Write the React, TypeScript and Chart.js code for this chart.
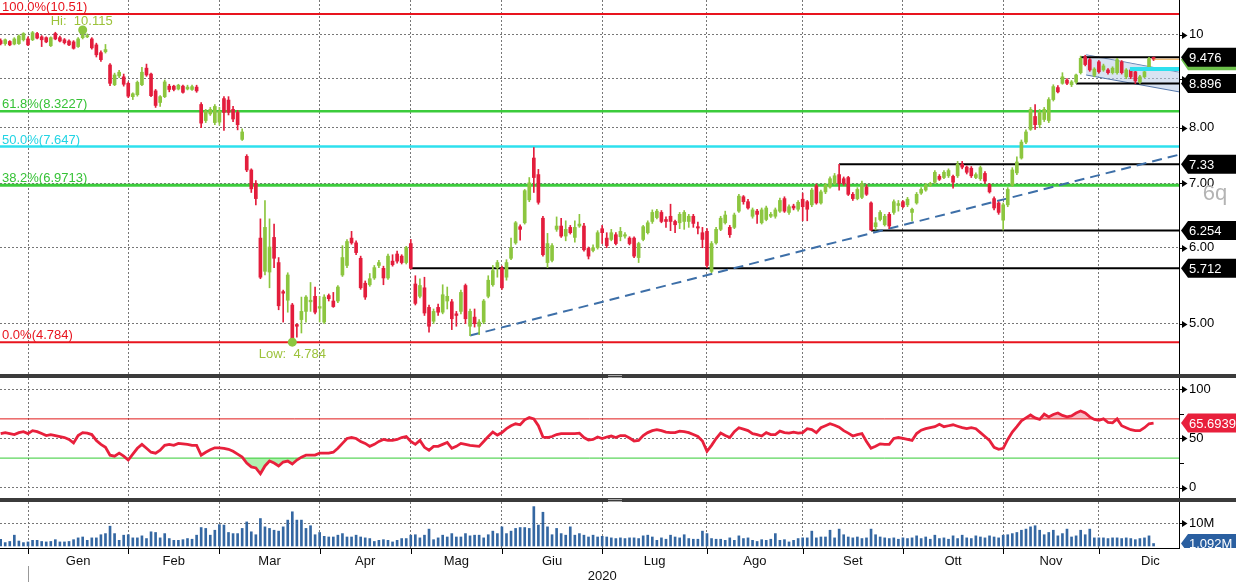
import React, { useEffect, useRef } from 'react';
import { Chart, registerables } from 'chart.js';

Chart.register(...registerables);

// ---------------- DATA ----------------
const monthLabels = ['Gen', 'Feb', 'Mar', 'Apr', 'Mag', 'Giu', 'Lug', 'Ago', 'Set', 'Ott', 'Nov', 'Dic'];
// trading-day index of the first session of each month (index 0 = first candle, Dec 2019)
const monthStarts = [6, 28, 48, 70, 90, 110, 132, 155, 176, 198, 220, 241];
const nextYearStart = 263.6;
const yearLabel = '2020';

const openP = [
  9.86, 9.79, 9.84, 9.78, 9.79, 9.88, 9.9, 9.88, 10.03, 9.95,
  9.93, 9.74, 10.03, 9.93, 9.88, 9.85, 9.83, 9.72, 9.93, 9.95,
  9.9, 9.76, 9.58, 9.6, 9.3, 8.87, 9.06, 9.04, 8.9, 8.62,
  8.66, 8.87, 9.23, 9.1, 8.74, 8.5, 8.62, 8.84, 8.84, 8.78,
  8.84, 8.78, 8.77, 8.82, 8.46, 8.14, 8.27, 8.1, 8.11, 8.58,
  8.55, 8.36, 8.3, 7.78, 7.47, 7.23, 7.0, 6.14, 5.67, 5.66,
  6.15, 5.79, 5.4, 5.29, 5.23, 4.99, 5.05, 5.15, 5.27, 5.34,
  5.19, 5.02, 5.35, 5.28, 5.28, 5.62, 5.75, 6.14, 6.07, 5.85,
  5.51, 5.49, 5.58, 5.75, 5.71, 5.58, 5.81, 5.91, 5.88, 5.79,
  6.06, 5.5, 5.34, 5.45, 5.2, 5.03, 5.2, 5.14, 5.28, 5.27,
  5.12, 5.15, 5.48, 4.97, 5.08, 4.97, 5.02, 5.34, 5.49, 5.72,
  5.71, 5.59, 5.85, 6.07, 6.31, 6.37, 6.73, 7.44, 7.15, 6.44,
  5.79, 5.82, 6.27, 6.32, 6.17, 6.3, 6.15, 6.32, 6.32, 5.99,
  5.96, 6.0, 6.28, 6.14, 6.12, 6.19, 6.16, 6.17, 6.14, 6.14,
  5.86, 6.12, 6.22, 6.39, 6.45, 6.53, 6.42, 6.47, 6.39, 6.37,
  6.39, 6.39, 6.47, 6.31, 6.22, 6.24, 5.67, 6.07, 6.27, 6.37,
  6.3, 6.3, 6.55, 6.78, 6.7, 6.47, 6.55, 6.37, 6.42, 6.47,
  6.47, 6.55, 6.75, 6.53, 6.63, 6.58, 6.74, 6.7, 6.65, 6.96,
  6.68, 6.86, 6.94, 7.0, 7.15, 7.08, 7.1, 6.82, 6.75, 6.77,
  6.94, 6.68, 6.31, 6.42, 6.34, 6.5, 6.53, 6.64, 6.7, 6.65,
  6.53, 6.68, 6.84, 6.89, 6.97, 7.02, 7.12, 7.1, 7.13, 7.12,
  7.13, 7.33, 7.28, 7.26, 7.1, 7.08, 7.17, 6.98, 6.75, 6.68,
  6.41, 6.65, 6.97, 7.18, 7.44, 7.73, 7.97, 8.22, 8.06, 8.16,
  8.14, 8.56, 8.81, 8.9, 8.97, 8.87, 8.93, 9.13, 9.48, 9.42,
  9.07, 9.37, 9.19, 9.19, 9.13, 9.13, 9.37, 9.04, 9.19, 9.15,
  8.93, 9.04, 9.26, 9.47
];
const highP = [
  9.9, 9.9, 9.86, 9.93, 10.0, 10.05, 9.95, 10.08, 10.06, 9.98,
  9.95, 9.95, 10.06, 9.97, 9.91, 9.88, 9.86, 9.93, 10.115, 10.02,
  9.93, 9.8, 9.62, 9.77, 9.33, 9.12, 9.18, 9.1, 8.93, 8.7,
  8.95, 9.25, 9.32, 9.12, 8.77, 8.64, 8.97, 8.88, 8.86, 8.88,
  8.86, 8.86, 8.86, 8.86, 8.5, 8.36, 8.4, 8.46, 8.4, 8.62,
  8.62, 8.42, 8.34, 7.98, 7.5, 7.25, 7.05, 6.43, 6.72, 6.43,
  6.35, 5.86, 5.42, 5.65, 5.25, 5.0, 5.33, 5.35, 5.52, 5.46,
  5.34, 5.36, 5.37, 5.39, 5.48, 6.03, 6.12, 6.24, 6.1, 5.88,
  5.54, 5.64, 5.75, 5.82, 5.74, 5.91, 5.9, 5.95, 5.9, 6.02,
  6.12, 5.61, 5.57, 5.59, 5.23, 5.18, 5.24, 5.49, 5.46, 5.3,
  5.15, 5.42, 5.5, 5.18, 5.18, 5.05, 5.3, 5.61, 5.75, 5.82,
  5.74, 5.83, 6.14, 6.39, 6.34, 6.9, 7.1, 7.63, 7.24, 6.47,
  6.21, 6.06, 6.46, 6.44, 6.4, 6.33, 6.4, 6.5, 6.36, 6.01,
  6.04, 6.25, 6.33, 6.22, 6.27, 6.22, 6.3, 6.22, 6.16, 6.16,
  6.08, 6.33, 6.4, 6.57, 6.58, 6.56, 6.46, 6.66, 6.41, 6.53,
  6.56, 6.5, 6.5, 6.38, 6.3, 6.28, 6.09, 6.3, 6.47, 6.55,
  6.33, 6.52, 6.82, 6.8, 6.74, 6.6, 6.58, 6.6, 6.63, 6.53,
  6.6, 6.76, 6.78, 6.65, 6.66, 6.72, 6.84, 6.72, 6.92, 6.99,
  6.89, 7.0, 7.11, 7.17, 7.33, 7.11, 7.12, 6.85, 6.93, 7.04,
  6.98, 6.7, 6.45, 6.56, 6.5, 6.53, 6.73, 6.72, 6.72, 6.77,
  6.6, 6.85, 6.93, 7.0, 7.02, 7.22, 7.15, 7.22, 7.25, 7.14,
  7.38, 7.38, 7.3, 7.29, 7.18, 7.3, 7.2, 7.0, 6.78, 6.7,
  6.68, 6.93, 7.27, 7.46, 7.77, 7.96, 8.4, 8.46, 8.36, 8.4,
  8.6, 8.87, 8.85, 9.13, 9.0, 8.96, 9.1, 9.5, 9.52, 9.45,
  9.24, 9.4, 9.32, 9.22, 9.26, 9.45, 9.4, 9.22, 9.22, 9.18,
  9.07, 9.18, 9.47, 9.48
];
const lowP = [
  9.76, 9.75, 9.74, 9.76, 9.77, 9.85, 9.74, 9.86, 9.9, 9.72,
  9.81, 9.72, 9.88, 9.83, 9.78, 9.74, 9.66, 9.7, 9.9, 9.93,
  9.66, 9.48, 9.38, 9.57, 8.85, 8.85, 9.02, 8.84, 8.6, 8.56,
  8.63, 8.85, 9.05, 8.62, 8.4, 8.42, 8.6, 8.72, 8.74, 8.76,
  8.69, 8.76, 8.75, 8.71, 8.0, 8.1, 8.24, 8.06, 8.05, 7.95,
  8.25, 8.12, 7.96, 7.76, 7.2, 6.85, 6.65, 5.57, 5.62, 5.45,
  5.72, 5.17, 5.02, 5.14, 4.784, 4.84, 4.89, 5.02, 5.15, 5.12,
  5.02, 5.0, 5.28, 5.2, 5.26, 5.6, 5.72, 6.05, 5.9, 5.43,
  5.3, 5.47, 5.56, 5.72, 5.49, 5.56, 5.74, 5.78, 5.77, 5.77,
  5.7, 5.23, 5.32, 5.1, 4.9, 5.0, 5.1, 5.12, 5.18, 4.93,
  4.97, 5.12, 5.0, 4.86, 4.96, 4.87, 5.0, 5.32, 5.47, 5.59,
  5.43, 5.55, 5.83, 6.05, 6.11, 6.35, 6.7, 6.85, 6.66, 5.88,
  5.72, 5.8, 6.24, 6.15, 6.1, 6.2, 6.08, 6.3, 5.95, 5.84,
  5.94, 5.98, 6.06, 6.0, 6.1, 6.04, 6.1, 6.14, 6.04, 5.86,
  5.79, 6.1, 6.2, 6.36, 6.43, 6.37, 6.3, 6.25, 6.22, 6.28,
  6.27, 6.3, 6.3, 6.2, 6.0, 5.72, 5.65, 6.05, 6.25, 6.35,
  6.15, 6.28, 6.53, 6.66, 6.58, 6.44, 6.36, 6.35, 6.4, 6.45,
  6.44, 6.53, 6.53, 6.5, 6.57, 6.55, 6.4, 6.4, 6.62, 6.66,
  6.66, 6.83, 6.92, 6.98, 6.89, 6.97, 6.8, 6.72, 6.73, 6.75,
  6.8, 6.254, 6.26, 6.4, 6.32, 6.28, 6.5, 6.55, 6.6, 6.62,
  6.4, 6.66, 6.82, 6.87, 6.95, 7.0, 7.05, 7.08, 7.1, 6.92,
  7.1, 7.25, 7.16, 7.1, 7.08, 7.05, 7.0, 6.84, 6.57, 6.5,
  6.26, 6.62, 6.95, 7.15, 7.42, 7.7, 7.95, 7.97, 8.0, 8.12,
  8.1, 8.53, 8.7, 8.88, 8.87, 8.83, 8.9, 9.1, 9.28, 9.16,
  9.04, 9.12, 9.16, 9.1, 9.1, 9.1, 9.1, 9.0, 9.0, 8.896,
  8.9, 9.02, 9.24, 9.4
];
const closeP = [
  9.79, 9.88, 9.76, 9.9, 9.97, 10.03, 9.76, 10.05, 9.92, 9.88,
  9.83, 9.93, 9.9, 9.85, 9.81, 9.76, 9.68, 9.9, 10.0, 9.98,
  9.69, 9.53, 9.42, 9.65, 8.9, 9.08, 9.14, 8.88, 8.63, 8.68,
  8.92, 9.14, 9.08, 8.64, 8.44, 8.62, 8.93, 8.77, 8.77, 8.86,
  8.71, 8.82, 8.83, 8.74, 8.09, 8.32, 8.36, 8.42, 8.32, 8.3,
  8.3, 8.17, 8.06, 7.92, 7.23, 6.91, 6.75, 5.59, 6.3, 6.01,
  5.85, 5.22, 5.38, 5.62, 4.82, 4.97, 5.15, 5.33, 5.29, 5.14,
  5.21, 5.33, 5.31, 5.21, 5.46, 5.86, 6.09, 6.07, 5.93, 5.45,
  5.33, 5.57, 5.72, 5.79, 5.58, 5.88, 5.76, 5.81, 5.79, 6.0,
  5.71, 5.25, 5.48, 5.13, 4.97, 5.15, 5.14, 5.36, 5.34, 5.06,
  5.1, 5.39, 5.06, 5.15, 5.0, 5.02, 5.28, 5.55, 5.68, 5.79,
  5.45, 5.79, 6.0, 6.37, 6.27, 6.88, 7.01, 7.1, 6.69, 5.9,
  6.06, 6.03, 6.32, 6.17, 6.27, 6.22, 6.3, 6.35, 5.97, 5.88,
  6.0, 6.22, 6.22, 6.03, 6.22, 6.06, 6.24, 6.19, 6.06, 5.88,
  6.06, 6.31, 6.37, 6.53, 6.55, 6.39, 6.39, 6.39, 6.34, 6.5,
  6.53, 6.47, 6.36, 6.29, 6.12, 5.75, 6.06, 6.27, 6.44, 6.49,
  6.19, 6.49, 6.79, 6.7, 6.6, 6.57, 6.5, 6.57, 6.6, 6.5,
  6.57, 6.72, 6.55, 6.62, 6.6, 6.69, 6.62, 6.58, 6.89, 6.68,
  6.86, 6.97, 7.08, 7.13, 7.0, 7.0, 6.82, 6.75, 6.9, 7.0,
  6.82, 6.26, 6.37, 6.53, 6.47, 6.32, 6.7, 6.67, 6.62, 6.74,
  6.58, 6.82, 6.9, 6.97, 7.0, 7.19, 7.07, 7.19, 7.22, 7.02,
  7.33, 7.28, 7.19, 7.13, 7.15, 7.27, 7.04, 6.86, 6.6, 6.53,
  6.65, 6.9, 7.23, 7.37, 7.73, 7.92, 8.36, 8.06, 8.3, 8.36,
  8.56, 8.83, 8.72, 9.04, 8.9, 8.93, 9.08, 9.45, 9.31, 9.19,
  9.21, 9.15, 9.28, 9.13, 9.23, 9.42, 9.13, 9.19, 9.04, 8.95,
  9.04, 9.15, 9.44, 9.43
];

const rsiValues = [
  55, 56, 55, 54, 56, 57, 55, 58, 57, 55,
  53, 54, 53, 52, 51, 49, 45.5, 53, 56, 55.5,
  54, 48, 44, 41, 33, 32, 35, 32, 28, 34,
  40, 44, 40, 36, 35, 38, 43, 44, 43, 45,
  44.5, 44, 43, 43, 33, 36, 38.5, 40.5, 40.5, 40,
  39, 37, 34, 31, 25, 21, 20, 14, 22, 27,
  25, 22, 26, 27, 24, 28, 31, 33, 33, 33,
  35, 35, 35, 36, 40, 45, 50, 51, 50, 47,
  45, 42, 44, 47, 49, 48, 48, 49, 51, 52,
  47, 44, 48, 41, 38, 42, 42, 44, 46, 40,
  42, 45, 44, 43, 42.5, 42, 47, 52, 56.5, 53.5,
  56, 60, 63, 65, 64, 69, 71.5, 70, 63, 51.5,
  51, 52, 54, 55, 55, 55, 55, 55.5, 51, 48.5,
  49, 51.5, 50, 51.5, 52.5, 51, 53, 53, 50.5, 47.5,
  48, 53, 56, 58, 59, 58, 56.5, 56, 56, 57.5,
  57, 56, 54, 52, 47.5, 37, 43, 50, 55.5, 53,
  51, 57, 61, 59.5, 58, 55, 54, 52.5, 56, 54,
  54, 57.5, 56, 55.5, 56.5, 55.5, 56, 60, 59, 56,
  61, 63, 65, 63.5, 61.6, 58, 55.5, 52.5, 54, 55,
  47, 40, 42, 44.5, 44, 44, 50, 51, 50, 49,
  48, 55, 58.5, 60, 61, 62, 64.5, 62, 63, 64,
  62.5, 61, 60, 61, 60, 56, 52, 48, 41, 39,
  40, 49, 56.5, 62, 68, 71, 74, 71, 69.5, 75,
  72, 74.5, 76, 73.5, 72, 73, 76, 78, 76, 72,
  69.5, 68.5, 70, 66.5, 66, 70, 63, 61, 59, 58,
  58, 61, 65, 65.6939
];

// volume in millions of shares
const volumeM = [
  3, 1.5, 2, 4.8, 2.2, 1.5, 1.8, 2.5, 2.5, 2,
  1.8, 2, 2.8, 1.8, 1.8, 2, 2.8, 3.6, 4, 2.5,
  3.6, 3.6, 5, 5.5, 8.8, 5.5, 2.5, 4.8, 5, 3.6,
  3.6, 4.5, 3.3, 6.3, 6, 3.6, 5.5, 3.3, 2.5, 2.5,
  2.8, 3.3, 3, 4.8, 8.2, 7.8, 4.8, 7, 9.5, 9.3,
  6, 5.5, 5.5, 7.8, 10.7, 6.3, 5, 12.2, 8.5, 7.8,
  7, 6.6, 8.5, 11.5, 15.2, 11.5, 11.5, 7.8, 9, 5,
  6, 4.3, 4, 4, 4.8, 5.5, 4, 4, 4.8, 4,
  3.6, 3.3, 2, 2.5, 2.8, 2.5, 1.8, 2.5, 3.3, 3.3,
  4.8, 5, 3.6, 4.8, 7.5, 2.8, 3.6, 4.8, 4, 5.5,
  4, 4, 5.5, 4.5, 4.8, 4.8, 3.6, 5, 6.6, 5.5,
  8.5, 5.5, 6.6, 7.8, 8.2, 8.2, 7.8, 17.5, 9.3, 15,
  8.5, 5, 7.8, 5.5, 4.8, 8.5, 4.8, 5.5, 4.8, 4,
  4.8, 4, 4.3, 4, 3.6, 3.3, 3.6, 3.3, 3.6, 3.6,
  3.3, 4.5, 4.8, 4, 2.5, 3.6, 3, 4.8, 4, 3.6,
  5, 3.3, 3, 3, 6.6, 5.5, 3.3, 3, 3, 2.5,
  3.6, 2.5, 4.5, 3.3, 3.6, 2.5, 2, 2.8, 2.5, 3,
  5.5, 2.5, 2.8, 1.8, 2.5, 3.3, 3.6, 3.6, 6.6, 3.6,
  4, 4, 7, 3.6, 7.5, 5, 4, 3.6, 4, 3.3,
  3.6, 7.5, 5, 4, 3.6, 3.3, 3.6, 3, 3.6, 3.3,
  3.6, 4.5, 3.3, 4, 3, 4.8, 3.3, 3.6, 3, 4.5,
  3.3, 4.8, 3.6, 3.3, 4.5, 4, 3.6, 4.5, 4, 3.6,
  4.8, 5, 5.5, 6, 7, 7.5, 8.5, 9, 7, 5,
  6, 7, 4.5, 5.5, 7.5, 4, 4.5, 7, 5, 7.5,
  3.6, 3.6, 3.6, 3.3, 3.6, 3.6, 3.3, 3.6, 3.3, 2.8,
  3.3, 3.6, 4.5, 1.092
];

const fibLevels = [10.51, 8.3227, 7.647, 6.9713, 4.784];
const fibLabels = ['100.0%(10.51)', '61.8%(8.3227)', '50.0%(7.647)', '38.2%(6.9713)', '0.0%(4.784)'];
const levelValues = [9.476, 8.896, 7.33, 6.254, 5.712];
const levelStarts = [237, 236, 184, 191, 90];
const trendStart = { x: 103, y: 4.86 };
const trendEndValue = 7.5;
const channelStart = 238.2;
const channelUpper = [9.53, 9.14];
const channelLower = [9.08, 8.72];
const bandStart = 247.8;
const bandValue = 9.21;
const extremaIdx = [18, 64];
const extremaVal = [10.115, 4.784];
const extremaText = ['Hi:  10.115', 'Low:  4.784'];
const priceTicks = [5, 6, 7, 8, 9, 10];
const rsiTicks = [0, 25, 50, 75, 100];
const rsiBands = [30, 70];
const volTicks = [10, 20];

// ---------------- STYLE / LAYOUT ----------------
const FONT = "'Liberation Sans', Arial, sans-serif";
const AXIS_W = 57;
const X_MIN = -0.145;
const X_MAX = 258.58;
const P_MIN = 4.432;
const P_MAX = 10.869;
const GREEN = '#8cc63f';
const RED = '#e31d3c';
const GRID = '#777777';
const FIB_COLORS = ['#e8141e', '#3ccc3c', '#2ee0ee', '#3ccc3c', '#e8141e'];
const FIB_TEXT = ['#e8141e', '#36c236', '#22d4e4', '#36c236', '#e8141e'];
const FIB_WIDTH = [2, 2.5, 2.5, 3, 2];
const HILO = '#9cc23a';

const idx = openP.map((_, i) => i);
const lastI = idx.length - 1;

function arrowBox(ctx, x0, cy, right, h, fill, text, color) {
  ctx.save();
  ctx.beginPath();
  ctx.moveTo(x0, cy);
  ctx.lineTo(x0 + 7, cy - h / 2);
  ctx.lineTo(right, cy - h / 2);
  ctx.lineTo(right, cy + h / 2);
  ctx.lineTo(x0 + 7, cy + h / 2);
  ctx.closePath();
  ctx.fillStyle = fill;
  ctx.fill();
  if (text) {
    ctx.fillStyle = color;
    ctx.font = `13px ${FONT}`;
    ctx.textAlign = 'left';
    ctx.textBaseline = 'middle';
    ctx.fillText(text, x0 + 8, cy + 1);
  }
  ctx.restore();
}

function axisArrows(ctx, scale, values, x0) {
  ctx.save();
  ctx.fillStyle = '#000';
  ctx.strokeStyle = '#000';
  ctx.lineWidth = 1;
  values.forEach((v) => {
    const py = Math.round(scale.getPixelForValue(v)) + 0.5;
    ctx.beginPath();
    ctx.moveTo(x0, py);
    ctx.lineTo(x0 + 3, py);
    ctx.stroke();
    ctx.beginPath();
    ctx.moveTo(x0 + 3, py - 3.5);
    ctx.lineTo(x0 + 8.5, py);
    ctx.lineTo(x0 + 3, py + 3.5);
    ctx.closePath();
    ctx.fill();
  });
  ctx.restore();
}

function minorTicks(ctx, scale, values, x0) {
  ctx.save();
  ctx.strokeStyle = '#000';
  ctx.lineWidth = 1;
  values.forEach((v) => {
    const py = Math.round(scale.getPixelForValue(v)) + 0.5;
    ctx.beginPath();
    ctx.moveTo(x0, py);
    ctx.lineTo(x0 + 5, py);
    ctx.stroke();
  });
  ctx.restore();
}

const xAxisHidden = () => ({
  type: 'linear',
  min: X_MIN,
  max: X_MAX,
  bounds: 'data',
  offset: false,
  afterBuildTicks: (s) => { s.ticks = monthStarts.map((v) => ({ value: v })); },
  afterFit: (s) => { s.height = 0; s.paddingLeft = 0; s.paddingRight = 0; },
  grid: { color: GRID, drawTicks: false, offset: false },
  border: { display: false, dash: [2, 2] },
  ticks: { display: false },
});

const baseOptions = {
  responsive: false,
  animation: false,
  devicePixelRatio: 1,
  events: [],
  layout: { padding: 0, autoPadding: false },
  plugins: { legend: { display: false }, tooltip: { enabled: false } },
};

const hLine = (x0, x1, v, color, width, order, dash?) => ({
  type: 'line',
  data: [{ x: x0, y: v }, { x: x1, y: v }],
  borderColor: color,
  borderWidth: width,
  borderDash: dash || [],
  pointRadius: 0,
  fill: false,
  order,
});

// ---------------- PRICE PANEL ----------------
const pricePlugin = {
  id: 'priceDecor',
  afterDraw(chart) {
    const { ctx, chartArea: ca } = chart;
    const x = chart.scales.x;
    const y = chart.scales.y;
    ctx.save();
    ctx.font = `13px ${FONT}`;
    ctx.textAlign = 'left';
    ctx.textBaseline = 'alphabetic';
    fibLevels.forEach((lv, k) => {
      ctx.fillStyle = FIB_TEXT[k];
      ctx.fillText(fibLabels[k], 2, y.getPixelForValue(lv) - 3);
    });
    // Hi / Low annotations
    ctx.textAlign = 'center';
    ctx.fillStyle = HILO;
    const hx = x.getPixelForValue(extremaIdx[0]);
    const hy = y.getPixelForValue(extremaVal[0]);
    ctx.fillText(extremaText[0], hx - 1, hy - 5);
    ctx.strokeStyle = GREEN;
    ctx.lineWidth = 1.5;
    ctx.beginPath();
    ctx.moveTo(hx, hy);
    ctx.lineTo(hx, hy + 6);
    ctx.stroke();
    const lx = x.getPixelForValue(extremaIdx[1]);
    const ly = y.getPixelForValue(extremaVal[1]);
    ctx.fillText(extremaText[1], lx, ly + 16);
    // watermark
    ctx.fillStyle = '#b4b4b4';
    ctx.font = `22px ${FONT}`;
    ctx.textAlign = 'center';
    ctx.fillText('6q', ca.right + 36, 200);
    ctx.restore();

    // right axis decorations
    axisArrows(ctx, y, priceTicks, ca.right);
    arrowBox(ctx, ca.right + 2, y.getPixelForValue(closeP[lastI]) + 0.5, chart.width, 21, '#6cc04a', '', '#fff');
    levelValues.forEach((v) => {
      arrowBox(ctx, ca.right + 2, y.getPixelForValue(v), chart.width, 19, '#000', String(v), '#fff');
    });
  },
};

function priceConfig() {
  const datasets: any[] = [];
  datasets.push({
    type: 'line',
    data: [{ x: channelStart, y: channelUpper[0] }, { x: X_MAX, y: channelUpper[1] }],
    borderColor: '#5577aa', borderWidth: 1, pointRadius: 0, fill: false, order: 60,
  });
  datasets.push({
    type: 'line',
    data: [{ x: channelStart, y: channelLower[0] }, { x: X_MAX, y: channelLower[1] }],
    borderColor: '#5577aa', borderWidth: 1, pointRadius: 0,
    fill: '-1', backgroundColor: 'rgba(184,204,232,0.55)', order: 59,
  });
  fibLevels.forEach((lv, k) => datasets.push(hLine(X_MIN, X_MAX, lv, FIB_COLORS[k], FIB_WIDTH[k], 50)));
  levelValues.forEach((v, k) => datasets.push(hLine(levelStarts[k], X_MAX, v, '#000', 2, 45)));
  datasets.push({
    type: 'line',
    data: [trendStart, { x: X_MAX, y: trendEndValue }],
    borderColor: '#3d6fa8', borderWidth: 2, borderDash: [10, 6], pointRadius: 0, fill: false, order: 44,
  });
  datasets.push({
    type: 'bar',
    data: idx.map((i) => ({ x: i, y: [lowP[i], highP[i]] })),
    backgroundColor: idx.map((i) => (closeP[i] >= openP[i] ? GREEN : RED)),
    barThickness: 1, grouped: false, order: 20,
  });
  datasets.push({
    type: 'bar',
    data: idx.map((i) => ({ x: i, y: [openP[i], closeP[i]] })),
    backgroundColor: idx.map((i) => (closeP[i] >= openP[i] ? GREEN : RED)),
    barThickness: 3, minBarLength: 1, grouped: false, order: 19,
  });
  datasets.push(hLine(bandStart, X_MAX, bandValue, '#2ee0ee', 4, 10));
  datasets.push(hLine(lastI, X_MAX, closeP[lastI], '#e8a040', 1, 9));
  datasets.push({
    type: 'line',
    data: extremaIdx.map((xi, k) => ({ x: xi, y: extremaVal[k] })),
    showLine: false, pointRadius: 4.5, pointBackgroundColor: GREEN, pointBorderWidth: 0, order: 1,
  });

  return {
    type: 'bar',
    data: { datasets },
    options: {
      ...baseOptions,
      scales: {
        x: xAxisHidden(),
        y: {
          type: 'logarithmic',
          position: 'right',
          min: P_MIN,
          max: P_MAX,
          bounds: 'data',
          afterBuildTicks: (s) => { s.ticks = priceTicks.map((v) => ({ value: v })); },
          afterFit: (s) => { s.width = AXIS_W; s.paddingTop = 0; s.paddingBottom = 0; },
          grid: { color: GRID, drawTicks: false },
          border: { display: true, color: '#000', width: 1, dash: [2, 2] },
          ticks: {
            padding: 10,
            color: '#000',
            font: { family: FONT, size: 13 },
            callback: (v) => (v === 10 ? '10' : v === 9 ? '' : Number(v).toFixed(2)),
          },
        },
      },
    },
    plugins: [pricePlugin],
  };
}

// ---------------- RSI PANEL ----------------
const rsiPlugin = {
  id: 'rsiDecor',
  afterDraw(chart) {
    const { ctx, chartArea: ca } = chart;
    const y = chart.scales.y;
    axisArrows(ctx, y, [0, 50, 100], ca.right);
    minorTicks(ctx, y, [25, 75], ca.right);
    arrowBox(ctx, ca.right + 2, y.getPixelForValue(rsiValues[lastI]), chart.width, 19, '#e8203c',
      rsiValues[lastI].toFixed(4), '#fff');
  },
};

function rsiConfig() {
  const pts = idx.map((i) => ({ x: i, y: rsiValues[i] }));
  return {
    type: 'line',
    data: {
      datasets: [
        {
          data: pts, borderWidth: 0, pointRadius: 0, order: 30,
          fill: { target: { value: rsiBands[0] }, above: 'rgba(0,0,0,0)', below: 'rgba(150,235,150,0.75)' },
        },
        {
          data: pts, borderWidth: 0, pointRadius: 0, order: 29,
          fill: { target: { value: rsiBands[1] }, above: 'rgba(245,170,180,0.75)', below: 'rgba(0,0,0,0)' },
        },
        hLine(X_MIN, X_MAX, rsiBands[0], '#33cc33', 1, 20),
        hLine(X_MIN, X_MAX, rsiBands[1], '#e01818', 1, 20),
        { data: pts, borderColor: '#e8203c', borderWidth: 2.8, pointRadius: 0, fill: false, tension: 0, order: 1 },
      ],
    },
    options: {
      ...baseOptions,
      scales: {
        x: xAxisHidden(),
        y: {
          type: 'linear',
          position: 'right',
          min: -10.7,
          max: 111.7,
          bounds: 'data',
          afterBuildTicks: (s) => { s.ticks = rsiTicks.map((v) => ({ value: v })); },
          afterFit: (s) => { s.width = AXIS_W; s.paddingTop = 0; s.paddingBottom = 0; },
          grid: {
            drawTicks: false,
            color: (c) => (c.tick && c.tick.value % 50 === 0 ? GRID : 'rgba(0,0,0,0)'),
          },
          border: { display: true, color: '#000', width: 1, dash: [2, 2] },
          ticks: {
            padding: 10,
            color: '#000',
            font: { family: FONT, size: 13 },
            callback: (v) => (v % 50 === 0 ? String(v) : ''),
          },
        },
      },
    },
    plugins: [rsiPlugin],
  };
}

// ---------------- VOLUME PANEL ----------------
const volPlugin = {
  id: 'volDecor',
  afterDraw(chart) {
    const { ctx, chartArea: ca } = chart;
    const x = chart.scales.x;
    const y = chart.scales.y;
    axisArrows(ctx, y, [10], ca.right);
    minorTicks(ctx, y, [20], ca.right);
    ctx.save();
    ctx.beginPath();
    ctx.rect(ca.right, ca.top, chart.width - ca.right, ca.bottom - ca.top);
    ctx.clip();
    arrowBox(ctx, ca.right + 2, y.getPixelForValue(volumeM[lastI]), chart.width, 19, '#2a5fa0',
      `${volumeM[lastI].toFixed(3)}M`, '#fff');
    ctx.restore();

    ctx.save();
    ctx.strokeStyle = '#000';
    ctx.lineWidth = 1;
    monthStarts.forEach((m) => {
      const px = Math.round(x.getPixelForValue(m)) + 0.5;
      ctx.beginPath();
      ctx.moveTo(px, ca.bottom);
      ctx.lineTo(px, ca.bottom + 6);
      ctx.stroke();
    });
    ctx.fillStyle = '#111';
    ctx.font = `13px ${FONT}`;
    ctx.textAlign = 'center';
    ctx.textBaseline = 'middle';
    monthLabels.forEach((lab, k) => {
      const end = k + 1 < monthStarts.length ? monthStarts[k + 1] : nextYearStart;
      ctx.fillText(lab, x.getPixelForValue((monthStarts[k] + end) / 2), ca.bottom + 13);
    });
    ctx.fillText(yearLabel, x.getPixelForValue(monthStarts[6]), ca.bottom + 28);
    ctx.strokeStyle = '#999';
    const yx = Math.round(x.getPixelForValue(monthStarts[0])) + 0.5;
    ctx.beginPath();
    ctx.moveTo(yx, ca.bottom + 18);
    ctx.lineTo(yx, chart.height);
    ctx.stroke();
    ctx.restore();
  },
};

function volConfig() {
  return {
    type: 'bar',
    data: {
      datasets: [
        {
          data: idx.map((i) => ({ x: i, y: volumeM[i] })),
          backgroundColor: '#3467a2',
          barThickness: 2,
          grouped: false,
        },
      ],
    },
    options: {
      ...baseOptions,
      scales: {
        x: {
          type: 'linear',
          min: X_MIN,
          max: X_MAX,
          bounds: 'data',
          offset: false,
          afterBuildTicks: (s) => { s.ticks = monthStarts.map((v) => ({ value: v })); },
          afterFit: (s) => { s.height = 34; s.paddingLeft = 0; s.paddingRight = 0; },
          grid: { color: GRID, drawTicks: false, offset: false },
          border: { display: true, color: '#000', width: 1, dash: [2, 2] },
          ticks: { display: false },
        },
        y: {
          type: 'linear',
          position: 'right',
          min: -0.9,
          max: 19.55,
          bounds: 'data',
          afterBuildTicks: (s) => { s.ticks = volTicks.map((v) => ({ value: v })); },
          afterFit: (s) => { s.width = AXIS_W; s.paddingTop = 0; s.paddingBottom = 0; },
          grid: {
            drawTicks: false,
            color: (c) => (c.tick && c.tick.value === 10 ? GRID : 'rgba(0,0,0,0)'),
          },
          border: { display: true, color: '#000', width: 1, dash: [2, 2] },
          ticks: {
            padding: 10,
            color: '#000',
            font: { family: FONT, size: 13 },
            callback: (v) => (v === 10 ? '10M' : ''),
          },
        },
      },
    },
    plugins: [volPlugin],
  };
}

// ---------------- COMPONENT ----------------
export default function App() {
  const priceRef = useRef<HTMLCanvasElement>(null);
  const rsiRef = useRef<HTMLCanvasElement>(null);
  const volRef = useRef<HTMLCanvasElement>(null);

  useEffect(() => {
    const charts = [
      new Chart(priceRef.current as any, priceConfig() as any),
      new Chart(rsiRef.current as any, rsiConfig() as any),
      new Chart(volRef.current as any, volConfig() as any),
    ];
    return () => charts.forEach((c) => c.destroy());
  }, []);

  const sep = (top: number) => (
    <div style={{ position: 'absolute', left: 0, top, width: 1236, height: 4, background: '#3b3b3b' }}>
      <div style={{ position: 'absolute', left: 608, top: 1, width: 14, height: 1, background: '#aaa' }} />
      <div style={{ position: 'absolute', left: 608, top: 3, width: 14, height: 1, background: '#aaa' }} />
    </div>
  );

  return (
    <div style={{ position: 'absolute', left: 0, top: 0, width: 1236, height: 582, background: '#fff', overflow: 'hidden' }}>
      <canvas ref={priceRef} width={1236} height={374}
        style={{ position: 'absolute', left: 0, top: 0, width: 1236, height: 374 }} />
      {sep(374)}
      <canvas ref={rsiRef} width={1236} height={120}
        style={{ position: 'absolute', left: 0, top: 378, width: 1236, height: 120 }} />
      {sep(498)}
      <canvas ref={volRef} width={1236} height={80}
        style={{ position: 'absolute', left: 0, top: 502, width: 1236, height: 80 }} />
    </div>
  );
}
